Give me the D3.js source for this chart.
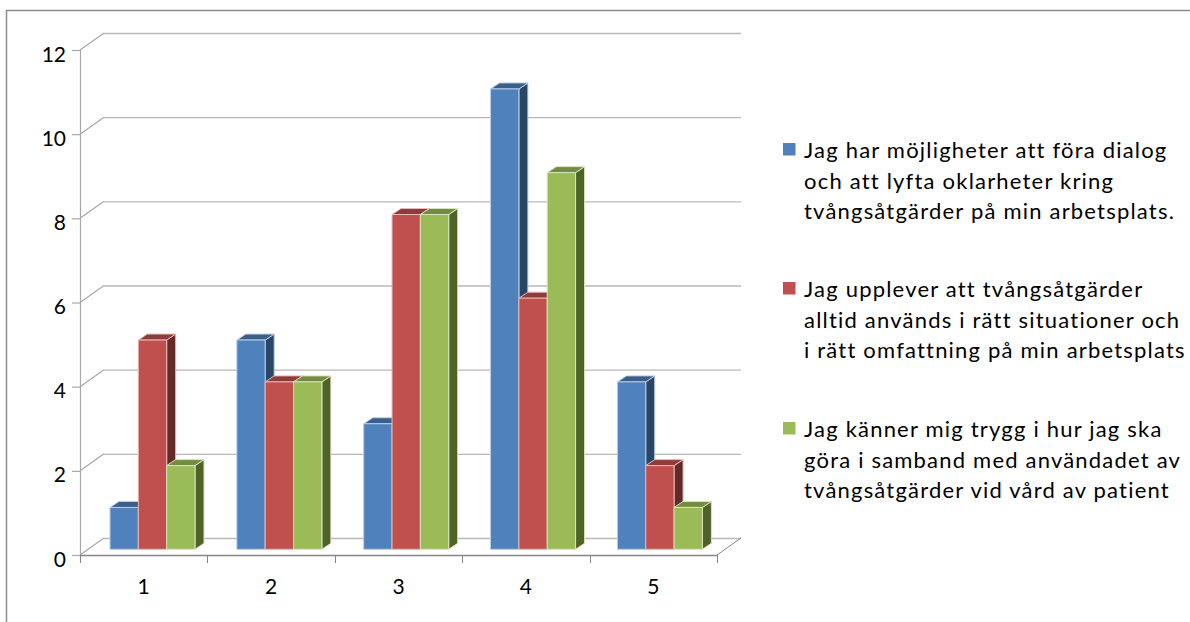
<!DOCTYPE html>
<html>
<head>
<meta charset="utf-8">
<style>
html,body{margin:0;padding:0;background:#fff;}
svg{display:block;}
text{font-family:Lato,"Open Sans",sans-serif;fill:#000;}
</style>
<script src="https://cdn.jsdelivr.net/npm/d3@7/dist/d3.min.js"></script>
</head>
<body>
<svg id="chart" width="1190" height="622"></svg>
<script>
// Survey answers per rating step, one array per statement
const categories = ["1", "2", "3", "4", "5"];
const dialog = [1, 5, 3, 11, 4];
const situationer = [5, 4, 8, 6, 2];
const trygg = [2, 4, 8, 9, 1];
const yTicks = [0, 2, 4, 6, 8, 10, 12];

const seriesNames = [
  ["Jag har möjligheter att föra dialog", "och att lyfta oklarheter kring", "tvångsåtgärder på min arbetsplats."],
  ["Jag upplever att tvångsåtgärder", "alltid används i rätt situationer och", "i rätt omfattning på min arbetsplats"],
  ["Jag känner mig trygg i hur jag ska", "göra i samband med användadet av", "tvångsåtgärder vid vård av patient"]
];
const seriesValues = [dialog, situationer, trygg];
const faceColors = ["#4F81BD", "#C0504D", "#9BBB59"];
const topColors = ["#3A5F8B", "#8E3B39", "#748C41"];
const sideColors = ["#2A4665", "#632A28", "#4F6229"];
const edgeColors = ["#B9CDE5", "#E6B9B8", "#D7E4BD"];

const svg = d3.select("#chart");

// Oblique projection: the back wall is shifted up and right of the front plane
const wallDX = 24, wallDY = -17;
const barDX = 9, barDY = -6;
const y = d3.scaleLinear().domain([0, 12]).range([555, 50]);
const x = d3.scaleBand().domain(categories).range([80, 717]);

// Bars stand slightly inside the floor, so they get their own scales
const yBar = d3.scaleLinear().domain([0, 12]).range([549.3, 47.1]);
const xBar = d3.scaleBand().domain(categories).range([110, 744.25]);
const bar = d3.scaleBand().domain(d3.range(3)).range([0, 85]);

const axisColor = "#868686", wallColor = "#A8A8A8", gridColor = "#B8B8B8";

// Outer chart frame, open at the right and bottom edges
svg.append("path").attr("d", "M6.5,622V10.5H1190").attr("fill", "none")
  .attr("stroke", "#8c8c8c").attr("stroke-width", 1.5);

// Back-wall gridlines
svg.append("g").selectAll("line").data(yTicks).join("line")
  .attr("x1", 80 + wallDX).attr("x2", 717 + wallDX)
  .attr("y1", d => y(d) + wallDY + .5).attr("y2", d => y(d) + wallDY + .5)
  .attr("stroke", gridColor).attr("stroke-width", 1.3);

// Left wall edge, wall-to-front diagonals and value ticks
const left = svg.append("g").attr("stroke", wallColor).attr("fill", "none").attr("stroke-width", 1.2);
left.append("line").attr("x1", 80.5).attr("x2", 80.5).attr("y1", y(12)).attr("y2", y(0) + 7);
left.selectAll(".diag").data(yTicks).join("line").attr("class", "diag")
  .attr("x1", 80).attr("x2", 80 + wallDX)
  .attr("y1", d => y(d)).attr("y2", d => y(d) + wallDY);
left.selectAll(".tick").data(yTicks).join("line").attr("class", "tick")
  .attr("x1", 72).attr("x2", 80)
  .attr("y1", d => y(d) + .5).attr("y2", d => y(d) + .5);

// Floor front edge, right floor edge and category ticks
const floor = svg.append("g").attr("stroke", axisColor).attr("fill", "none");
floor.append("line").attr("x1", 80).attr("x2", 717).attr("y1", y(0) + .5).attr("y2", y(0) + .5).attr("stroke-width", 1.3);
floor.append("line").attr("x1", 717).attr("x2", 717 + wallDX).attr("y1", y(0)).attr("y2", y(0) + wallDY);
floor.selectAll(".tick").data(categories.map(c => x(c)).concat(717)).join("line").attr("class", "tick")
  .attr("x1", d => Math.round(d) + .5).attr("x2", d => Math.round(d) + .5)
  .attr("y1", y(0)).attr("y2", y(0) + 8);

// Bars painted left to right so each one overlaps its neighbour's side face
categories.forEach((cat, ci) => {
  seriesValues.forEach((vals, si) => {
    const x0 = xBar(cat) + bar(si), w = bar.bandwidth();
    const yTop = yBar(vals[ci]), base = yBar(0);
    const g = svg.append("g").attr("stroke", edgeColors[si]).attr("stroke-width", 1).attr("stroke-linejoin", "round");
    g.append("polygon").attr("fill", sideColors[si])
      .attr("points", [[x0 + w, yTop], [x0 + w + barDX, yTop + barDY], [x0 + w + barDX, base + barDY], [x0 + w, base]].join(" "));
    g.append("polygon").attr("fill", topColors[si])
      .attr("points", [[x0, yTop], [x0 + barDX, yTop + barDY], [x0 + w + barDX, yTop + barDY], [x0 + w, yTop]].join(" "));
    g.append("rect").attr("fill", faceColors[si])
      .attr("x", x0).attr("y", yTop).attr("width", w).attr("height", base - yTop);
  });
});

// Value and category labels
svg.append("g").selectAll("text").data(yTicks).join("text")
  .attr("x", 66).attr("y", d => y(d) + 11.5).attr("text-anchor", "end")
  .attr("font-size", 21).text(d => d);
svg.append("g").selectAll("text").data(categories).join("text")
  .attr("x", d => x(d) + x.bandwidth() / 2).attr("y", 594).attr("text-anchor", "middle")
  .attr("font-size", 21).text(d => d);

// Legend
const legendY = [158, 297, 437], lineStep = 30.6;
const legend = svg.append("g").selectAll("g").data(seriesNames).join("g");
legend.append("rect").attr("x", 783).attr("y", (d, i) => legendY[i] - 15)
  .attr("width", 12.5).attr("height", 12.5).attr("fill", (d, i) => faceColors[i]);
legend.each(function (lines, i) {
  d3.select(this).selectAll("text").data(lines).join("text")
    .attr("x", 804).attr("y", (d, j) => legendY[i] + j * lineStep)
    .attr("font-size", 22).attr("letter-spacing", 1.2).text(d => d);
});
</script>
</body>
</html>
